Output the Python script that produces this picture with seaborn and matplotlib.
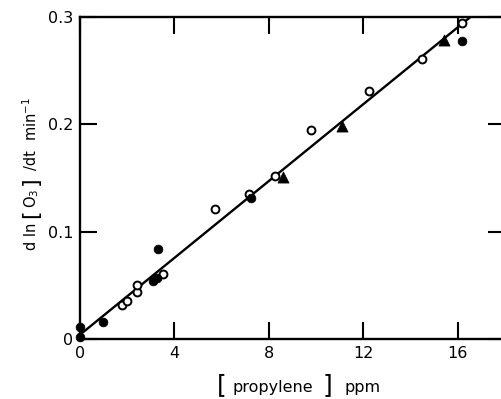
import numpy as np
import pandas as pd
import matplotlib
matplotlib.use("Agg")
import matplotlib.pyplot as plt
import seaborn as sns

# Ozone decay rate vs propylene concentration
open_x = [1.77, 1.98, 2.4, 2.4, 3.53, 5.72, 7.17, 8.26, 9.8, 12.25, 14.48, 16.2]
open_y = [0.032, 0.035, 0.044, 0.050, 0.061, 0.121, 0.135, 0.152, 0.195, 0.231, 0.261, 0.294]
filled_x = [0.0, 0.0, 0.96, 3.1, 3.26, 3.32, 7.23, 16.17]
filled_y = [0.0015, 0.0115, 0.016, 0.054, 0.057, 0.084, 0.131, 0.278]
tri_x = [8.6, 11.09, 15.42]
tri_y = [0.151, 0.198, 0.279]

# least-squares line through all runs
fit_intercept = 0.004
fit_slope = 0.0179

x_ticks = [0, 4, 8, 12, 16]
x_ticklabels = ["0", "4", "8", "12", "16"]
y_ticks = [0, 0.1, 0.2, 0.3]
y_ticklabels = ["0", "0.1", "0.2", "0.3"]

sns.set_style("ticks")
plt.rcParams["font.family"] = ["DejaVu Sans"]
plt.rcParams["mathtext.fontset"] = "dejavusans"

df_open = pd.DataFrame({"x": open_x, "y": open_y})
df_filled = pd.DataFrame({"x": filled_x, "y": filled_y})
df_tri = pd.DataFrame({"x": tri_x, "y": tri_y})
line_x = np.array([0.0, 18.0])
df_line = pd.DataFrame({"x": line_x, "y": fit_intercept + fit_slope * line_x})

W, H = 502, 399
fig = plt.figure(figsize=(W / 100, H / 100), dpi=100)
ax = fig.add_axes([80 / W, 60 / H, 425 / W, 322 / H])

sns.lineplot(data=df_line, x="x", y="y", ax=ax, color="black", linewidth=1.7)
sns.scatterplot(data=df_open, x="x", y="y", ax=ax, marker="o", s=32,
                facecolor="white", edgecolor="black", linewidth=1.4, zorder=3, clip_on=False)
sns.scatterplot(data=df_filled, x="x", y="y", ax=ax, marker="o", s=40,
                color="black", edgecolor="black", linewidth=0.5, zorder=3, clip_on=False)
sns.scatterplot(data=df_tri, x="x", y="y", ax=ax, marker="^", s=64,
                color="black", edgecolor="black", linewidth=0.5, zorder=3, clip_on=False)

ax.set_xlim(0, 18)
ax.set_ylim(0, 0.3)
ax.set_xticks(x_ticks)
ax.set_xticklabels(x_ticklabels)
ax.set_yticks(y_ticks)
ax.set_yticklabels(y_ticklabels)
ax.tick_params(direction="in", length=12, width=1.5, top=True, right=True,
               labelsize=11.5, colors="black")
ax.tick_params(axis="x", pad=5)
ax.tick_params(axis="y", pad=5)
for sp in ax.spines.values():
    sp.set_linewidth(1.7)
    sp.set_color("black")
ax.set_xlabel("")
ax.set_ylabel("")


def put(px, py, s, size=11.5, **kw):
    """Place a text piece at pixel coordinates measured from the top-left."""
    fig.text(px / W, 1 - py / H, s, fontsize=size, color="black", **kw)


# x-axis title: [ propylene ] ppm
put(222, 385, "[", size=18, ha="center", va="center")
put(273, 392, "propylene", ha="center", va="baseline")
put(327, 385, "]", size=18, ha="center", va="center")
put(363, 392, "ppm", ha="center", va="baseline")

# y-axis title: d ln [ O3 ] /dt min^-1
ys = 10.5
put(32, 236, "d ln", size=ys, rotation=90, ha="center", va="center")
put(31, 214, "[", size=16, rotation=90, ha="center", va="center")
put(32, 198, r"O$_3$", size=ys, rotation=90, ha="center", va="center")
put(31, 181, "]", size=16, rotation=90, ha="center", va="center")
put(32, 160, "/dt", size=ys, rotation=90, ha="center", va="center")
put(31, 119, r"min$^{-1}$", size=ys, rotation=90, ha="center", va="center")

fig.savefig("out.png", dpi=100)
